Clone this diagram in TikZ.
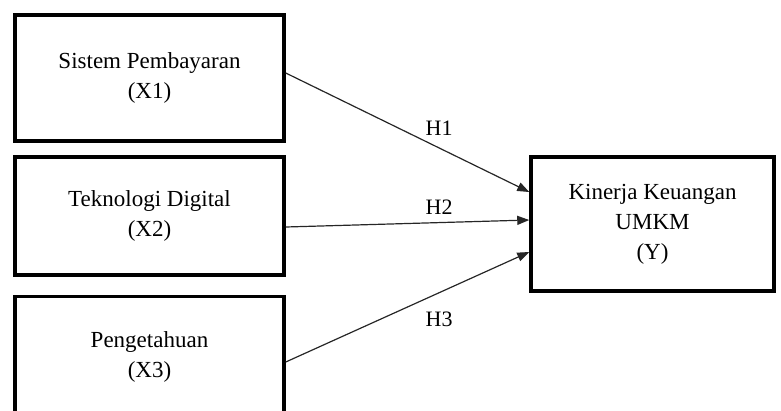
\documentclass[tikz,border=0pt]{standalone}
\usepackage{fontspec}
\setmainfont{Liberation Serif}
\usepackage{xcolor}
\usetikzlibrary{arrows.meta, positioning, calc}

\begin{document}
\begin{tikzpicture}[
      x=1pt, y=-1pt,
      font=\fontsize{23}{30}\selectfont,
      varbox/.style={
          draw,
          line width=3.5pt,
          minimum width=269pt,
          align=center
      },
      hyparrow/.style={
          -{Triangle[length=12pt, width=9pt]},
          line width=1.2pt,
          draw=black!85
      },
      hyplabel/.style={
          font=\fontsize{22}{25}\selectfont
      }
  ]
      \useasboundingbox (0, 0) rectangle (781, 410);

      % --- Variables ---
      \node[varbox, minimum height=126pt] (x1) at (149.5, 78) {Sistem Pembayaran\\(X1)};
      \node[varbox, minimum height=118pt] (x2) at (149.5, 216) {Teknologi Digital\\(X2)};
      \node[varbox, minimum height=121pt] (x3) at (149.5, 357) {Pengetahuan\\(X3)};
      \node[varbox, minimum width=243pt, minimum height=134pt] (y) at (652.5, 224) {Kinerja Keuangan\\UMKM\\(Y)};

      % --- Hypotheses (arrows) ---
      \draw[hyparrow] ($(x1.east) + (0, -5)$) -- node[hyplabel, pos=0.63, yshift=20pt] (h1) {H1} ($(y.west) + (0, -32)$);
      \draw[hyparrow] ($(x2.east) + (0, 11)$) -- node[hyplabel, pos=0.63, yshift=15pt] (h2) {H2} ($(y.west) + (0, -4)$);
      \draw[hyparrow] ($(x3.east) + (0, 5)$) -- node[hyplabel, pos=0.63, yshift=-27pt] (h3) {H3} ($(y.west) + (0, 28)$);

  \end{tikzpicture}
\end{document}
